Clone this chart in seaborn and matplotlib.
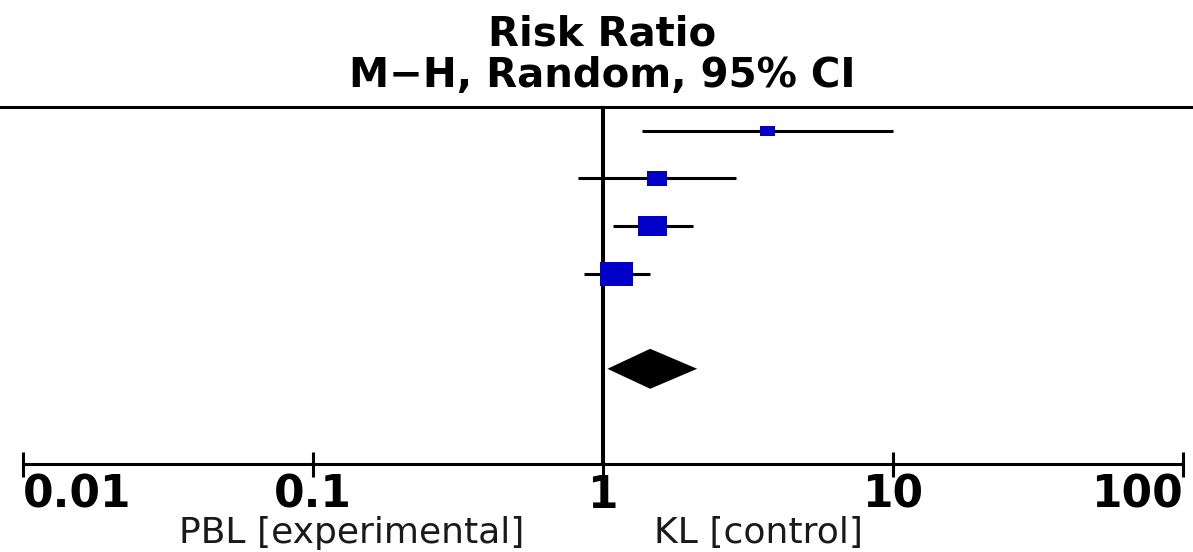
import numpy as np
import matplotlib
matplotlib.use("Agg")
import matplotlib.pyplot as plt
from matplotlib.path import Path
from matplotlib.ticker import FixedLocator, FixedFormatter, NullLocator
import seaborn as sns

# ---- data ----
study_rr = [3.71, 1.54, 1.49, 1.12]
ci_low = [1.37, 0.82, 1.09, 0.86]
ci_high = [10.0, 2.88, 2.05, 1.46]
weights = [8.4, 16.0, 32.6, 43.0]
pooled_rr = 1.46
pooled_low = 1.04
pooled_high = 2.12
tick_values = [0.01, 0.1, 1, 10, 100]
tick_labels = ["0.01", "0.1", "1", "10", "100"]
title_lines = ["Risk Ratio", "M\u2212H, Random, 95% CI"]
left_label = "PBL [experimental]"
right_label = "KL [control]"

sns.set_style("white")
plt.rcParams["font.family"] = ["DejaVu Sans"]

W, H = 1193, 552
fig = plt.figure(figsize=(W / 100, H / 100), dpi=100)

top_px, bot_px = 107, 464
ax = fig.add_axes([0, 1 - bot_px / H, 1, (bot_px - top_px) / H])
ax.set_facecolor("white")

rows = list(range(len(study_rr)))
pooled_row = len(study_rr) + 1

# CI lines
ax.hlines(rows, ci_low, ci_high, color="black", lw=2.2, zorder=2)

# study squares (rectangular marker, weight -> area)
rect = Path([(-0.5, -0.36), (0.5, -0.36), (0.5, 0.36), (-0.5, 0.36), (-0.5, -0.36)],
            [Path.MOVETO, Path.LINETO, Path.LINETO, Path.LINETO, Path.CLOSEPOLY])
sizes = [13.3 * w for w in weights]
sns.scatterplot(x=study_rr, y=rows, s=sizes, marker=rect, color="#0000C8",
                edgecolor="none", linewidth=0, ax=ax, zorder=3, legend=False)

# pooled diamond
dh = 0.42
ax.fill([pooled_low, pooled_rr, pooled_high, pooled_rr],
        [pooled_row, pooled_row - dh, pooled_row, pooled_row + dh],
        color="black", zorder=3, lw=0)

# line of no effect
ax.axvline(1, color="black", lw=2.9, zorder=1)

ax.set_xscale("log")
dec = 290.0
x0, x100 = 22.5, 1182.5
ax.set_xlim(10 ** (-2 - x0 / dec), 10 ** (2 + (W - x100) / dec))
ax.set_ylim(7, -0.5)

ax.xaxis.set_major_locator(FixedLocator(tick_values))
ax.xaxis.set_major_formatter(FixedFormatter(tick_labels))
ax.xaxis.set_minor_locator(NullLocator())
ax.set_yticks([])
ax.set_xlabel("")
ax.set_ylabel("")
ax.tick_params(axis="x", direction="inout", length=18, width=2.2, pad=-2,
               labelsize=31.7, colors="black", bottom=True)
for lab in ax.get_xticklabels():
    lab.set_fontweight("bold")
labs = ax.get_xticklabels()
labs[0].set_horizontalalignment("left")
labs[-1].set_horizontalalignment("right")

for side in ["left", "right"]:
    ax.spines[side].set_visible(False)
ax.spines["top"].set_visible(True)
ax.spines["top"].set_linewidth(2.2)
ax.spines["top"].set_color("black")
ax.spines["bottom"].set_visible(True)
ax.spines["bottom"].set_linewidth(2.2)
ax.spines["bottom"].set_color("black")
ax.spines["bottom"].set_bounds(0.01, 100)

# titles
fig.text(602 / W, 1 - 45 / H, title_lines[0], ha="center", va="baseline",
         fontsize=29, fontweight="bold", color="black")
fig.text(602 / W, 1 - 87 / H, title_lines[1], ha="center", va="baseline",
         fontsize=29, fontweight="bold", color="black")

# bottom direction labels
fig.text(352 / W, 1 - 543 / H, left_label, ha="center", va="baseline",
         fontsize=26, color="#1a1a1a")
fig.text(759 / W, 1 - 543 / H, right_label, ha="center", va="baseline",
         fontsize=26, color="#1a1a1a")

fig.savefig("out.png", dpi=100, facecolor="white")
